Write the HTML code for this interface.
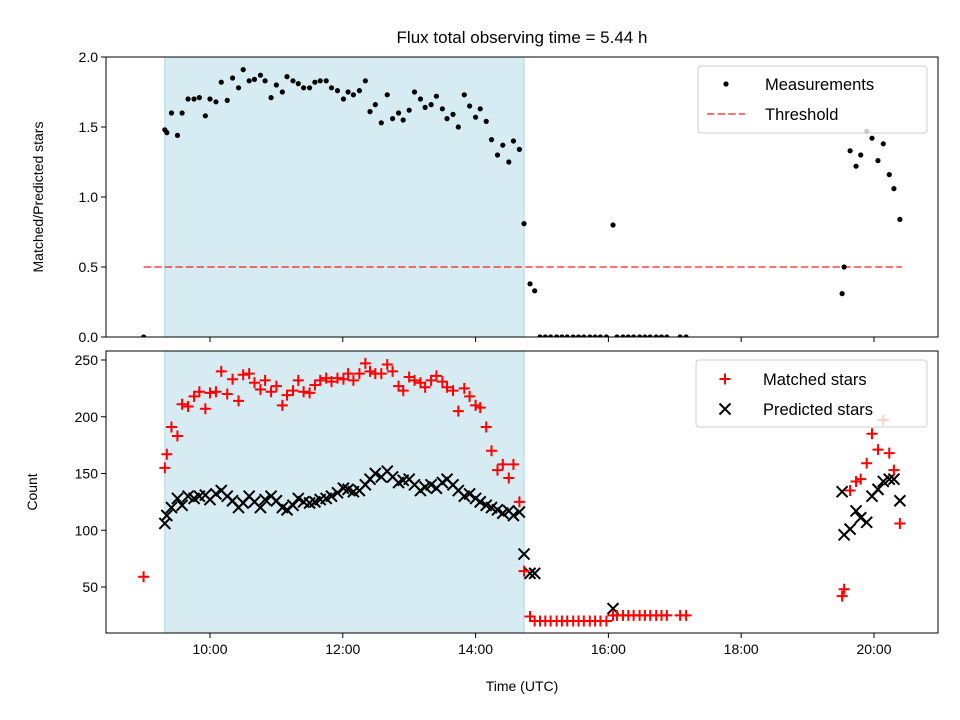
<!DOCTYPE html>
<html><head><meta charset="utf-8"><style>
body{margin:0;background:#fff;}
svg{font-family:"Liberation Sans","DejaVu Sans",sans-serif;display:block}
</style></head><body>
<svg id="chart" width="960" height="720" viewBox="0 0 960 720"></svg>
<script>
const times=[9.32,9.35,9.42,9.51,9.58,9.67,9.76,9.84,9.93,10.0,10.09,10.17,10.26,10.34,10.43,10.50,10.59,10.67,10.76,10.83,10.92,11.0,11.09,11.16,11.25,11.33,11.41,11.50,11.58,11.66,11.75,11.83,11.92,12.01,12.08,12.16,12.25,12.34,12.41,12.49,12.58,12.67,12.75,12.84,12.91,13.0,13.08,13.17,13.24,13.33,13.41,13.5,13.57,13.66,13.74,13.83,13.91,14.0,14.07,14.16,14.24,14.33,14.41,14.50,14.57,14.66,
9.0,14.73,14.82,14.89,14.97,15.05,15.13,15.22,15.30,15.38,15.47,15.55,15.63,15.72,15.80,15.88,15.97,16.07,16.13,16.22,16.30,16.38,16.47,16.55,16.63,16.72,16.80,16.88,17.08,17.17,
19.52,19.55,19.64,19.73,19.80,19.89,19.97,20.06,20.14,20.23,20.30,20.39];
const ratios=[1.48,1.46,1.60,1.44,1.60,1.70,1.70,1.71,1.58,1.70,1.68,1.82,1.69,1.85,1.78,1.91,1.83,1.84,1.87,1.83,1.71,1.80,1.75,1.86,1.83,1.81,1.78,1.78,1.82,1.83,1.83,1.78,1.76,1.70,1.75,1.73,1.76,1.83,1.61,1.66,1.53,1.73,1.56,1.60,1.55,1.62,1.75,1.70,1.64,1.66,1.72,1.63,1.56,1.59,1.50,1.73,1.65,1.57,1.63,1.54,1.41,1.30,1.37,1.25,1.40,1.34,
0,0.81,0.38,0.33,0,0,0,0,0,0,0,0,0,0,0,0,0,0.80,0,0,0,0,0,0,0,0,0,0,0,0,
0.31,0.50,1.33,1.22,1.30,1.47,1.42,1.26,1.38,1.16,1.06,0.84];
const matched=[155,167,191,183,211,209,218,222,207,221,222,240,220,233,214,237,238,230,224,232,222,227,210,219,223,232,222,221,228,232,234,231,234,233,238,232,238,247,240,238,238,246,240,227,223,235,232,230,226,232,236,231,226,223,205,225,218,210,208,191,170,153,158,146,158,125,
59,64,24,20,20,20,20,20,20,20,20,20,20,20,20,20,20,25,25,25,25,25,25,25,25,25,25,25,25,25,
42,48,135,143,145,159,185,171,197,168,153,106];
const predicted=[106,113,120,128,122,130,128,130,131,127,132,135,130,126,120,124,130,125,120,127,130,126,120,118,122,128,125,124,125,127,128,130,133,137,136,134,135,140,145,150,147,152,147,142,144,145,140,135,138,140,137,142,145,140,135,130,132,128,125,122,120,118,115,117,113,116,
null,79,62,62,null,null,null,null,null,null,null,null,null,null,null,null,null,31,null,null,null,null,null,null,null,null,null,null,null,null,
134,96,101,117,111,107,130,136,143,145,145,126];
const xTicks=[10,12,14,16,18,20];
const xTickLabels=["10:00","12:00","14:00","16:00","18:00","20:00"];
const topTicks=[0,0.5,1.0,1.5,2.0];
const topTickLabels=["0.0","0.5","1.0","1.5","2.0"];
const botTicks=[50,100,150,200,250];
const threshold=0.5, thrStart=9.0, thrEnd=20.42;
const spanStart=9.32, spanEnd=14.73;

const NS="http://www.w3.org/2000/svg";
const svg=document.getElementById('chart');
function mk(tag,attrs,parent,text){const e=document.createElementNS(NS,tag);for(const k in attrs)e.setAttribute(k,attrs[k]);if(text!==undefined)e.textContent=text;(parent||svg).appendChild(e);return e;}
const L=106,R=938;
const xMin=8.434,xMax=20.964;
const X=t=>L+(t-xMin)/(xMax-xMin)*(R-L);
const T={top:57,bot:337,min:0,max:2};
const B={top:351,bot:633,min:250-(633-360)/1.135,max:250+(360-351)/1.135};
const Yt=v=>T.bot-(v-T.min)/(T.max-T.min)*(T.bot-T.top);
const Yb=v=>B.bot-(v-B.min)/(B.max-B.min)*(B.bot-B.top);

mk('defs',{}).innerHTML='<clipPath id="ct"><rect x="106" y="57" width="832" height="280"/></clipPath><clipPath id="cb"><rect x="106" y="351" width="832" height="282"/></clipPath>';

let e=mk('text',{x:522,y:43,'font-size':'17','text-anchor':'middle'},svg,'Flux total observing time = 5.44 h');


e=mk('rect',{x:X(spanStart),y:T.top,width:X(spanEnd)-X(spanStart),height:T.bot-T.top,fill:'#add8e6','fill-opacity':0.5,stroke:'#add8e6'});

e=mk('rect',{x:X(spanStart),y:B.top,width:X(spanEnd)-X(spanStart),height:B.bot-B.top,fill:'#add8e6','fill-opacity':0.5,stroke:'#add8e6'});


e=mk('line',{x1:X(thrStart),x2:X(thrEnd),y1:Yt(threshold),y2:Yt(threshold),stroke:'#ff0000','stroke-opacity':0.55,'stroke-width':2,'stroke-dasharray':'7.4,3.2'});


const gT=mk('g',{'clip-path':'url(#ct)'});

times.forEach((t,i)=>{const c=mk('circle',{cx:X(t),cy:Yt(ratios[i]),r:2.6,fill:'#000'},gT);

});

const gB=mk('g',{'clip-path':'url(#cb)'});

times.forEach((t,i)=>{if(predicted[i]==null)return;const x=X(t),y=Yb(predicted[i]),s=5.5;
const p=mk('path',{d:`M${x-s},${y-s}L${x+s},${y+s}M${x-s},${y+s}L${x+s},${y-s}`,stroke:'#000','stroke-width':2},gB);

});
times.forEach((t,i)=>{const x=X(t),y=Yb(matched[i]),s=5.5;
const p=mk('path',{d:`M${x-s},${y}L${x+s},${y}M${x},${y-s}L${x},${y+s}`,stroke:'#ff0000','stroke-width':2},gB);

});

e=mk('rect',{x:L,y:T.top,width:R-L,height:T.bot-T.top,fill:'none',stroke:'#000','stroke-width':1});

e=mk('rect',{x:L,y:B.top,width:R-L,height:B.bot-B.top,fill:'none',stroke:'#000','stroke-width':1});


xTicks.forEach((t,i)=>{const x=X(t);
mk('line',{x1:x,x2:x,y1:T.bot,y2:T.bot+5,stroke:'#000'});
mk('line',{x1:x,x2:x,y1:B.bot,y2:B.bot+5,stroke:'#000'});
const tx=mk('text',{x:x,y:B.bot+21,'font-size':'14','text-anchor':'middle'},svg,xTickLabels[i]);

});
topTicks.forEach((v,i)=>{const y=Yt(v);mk('line',{x1:L-5,x2:L,y1:y,y2:y,stroke:'#000'});
const tx=mk('text',{x:L-8,y:y+5,'font-size':'14','text-anchor':'end'},svg,topTickLabels[i]);

});
botTicks.forEach(v=>{const y=Yb(v);mk('line',{x1:L-5,x2:L,y1:y,y2:y,stroke:'#000'});
const tx=mk('text',{x:L-8,y:y+5,'font-size':'14','text-anchor':'end'},svg,String(v));

});

e=mk('text',{x:522,y:691,'font-size':'14','text-anchor':'middle'},svg,'Time (UTC)');

e=mk('text',{x:0,y:0,'font-size':'14','text-anchor':'middle',transform:'translate(43,197) rotate(-90)'},svg,'Matched/Predicted stars');

e=mk('text',{x:0,y:0,'font-size':'14','text-anchor':'middle',transform:'translate(37,492) rotate(-90)'},svg,'Count');


const lg1=mk('g',{});
mk('rect',{x:698,y:66,width:229,height:67,rx:3,fill:'#fff','fill-opacity':0.8,stroke:'#ccc'},lg1);
mk('circle',{cx:726,cy:84,r:2.6,fill:'#000'},lg1);
mk('text',{x:765,y:90,'font-size':'16.5'},lg1,'Measurements');
mk('line',{x1:707,x2:745,y1:114,y2:114,stroke:'#ff0000','stroke-opacity':0.55,'stroke-width':2,'stroke-dasharray':'7.4,3.2'},lg1);
mk('text',{x:765,y:120,'font-size':'16.5'},lg1,'Threshold');
const lg2=mk('g',{});
mk('rect',{x:696,y:360,width:231,height:67,rx:3,fill:'#fff','fill-opacity':0.8,stroke:'#ccc'},lg2);
mk('path',{d:'M719.5,379L730.5,379M725,373.5L725,384.5',stroke:'#ff0000','stroke-width':2},lg2);
mk('text',{x:763,y:385,'font-size':'16.5'},lg2,'Matched stars');
mk('path',{d:'M719.5,403.5L730.5,414.5M719.5,414.5L730.5,403.5',stroke:'#000','stroke-width':2},lg2);
mk('text',{x:763,y:415,'font-size':'16.5'},lg2,'Predicted stars');
</script>
</body></html>
